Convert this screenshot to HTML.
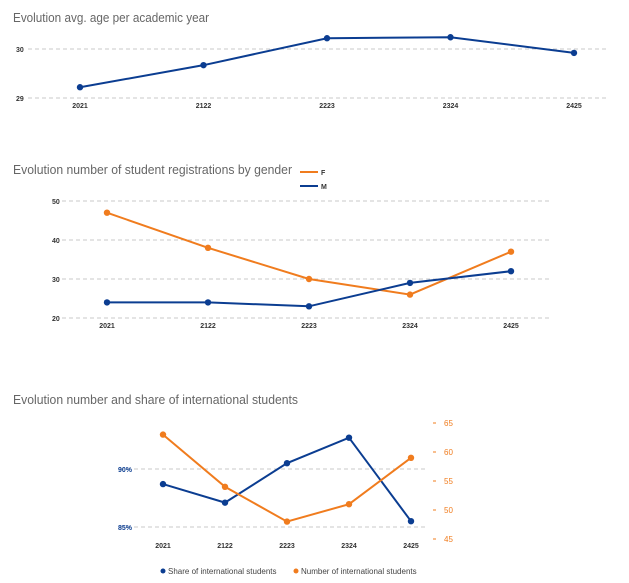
<!DOCTYPE html>
<html><head><meta charset="utf-8"><style>
body{margin:0;background:#fff;width:629px;height:583px;overflow:hidden;font-family:"Liberation Sans",sans-serif}
svg{display:block}
</style></head><body>
<svg id="s" width="629" height="583"></svg>
<script>
const years=["2021","2122","2223","2324","2425"];
const ageValues=[29.22,29.67,30.22,30.24,29.92];
const ageTicks=[29,30];
const femaleValues=[47,38,30,26,37];
const maleValues=[24,24,23,29,32];
const genderTicks=[20,30,40,50];
const shareValues=[88.7,87.1,90.5,92.7,85.5];
const shareTicks=[85,90];
const countValues=[63,54,48,51,59];
const countTicks=[45,50,55,60,65];
const BLUE="#0b3d91",ORANGE="#f07c1e";
const svg=document.getElementById('s');
const NS="http://www.w3.org/2000/svg";
function mk(tag,attrs,parent){const e=document.createElementNS(NS,tag);for(const k in attrs)e.setAttribute(k,attrs[k]);(parent||svg).appendChild(e);return e;}
function txt(x,y,s,size,fill,anchor,parent){const t=mk('text',{x:x,y:y,'font-size':size,fill:fill,'text-anchor':anchor||'start'},parent);t.textContent=s;return t;}
function lin(v0,p0,v1,p1){return v=>p0+(v-v0)*(p1-p0)/(v1-v0);}
function series(vals,xf,yf,color,name,parent){
  const g=mk('g',{},parent);
  
  
  mk('polyline',{points:vals.map((v,i)=>xf(i)+','+yf(v)).join(' '),fill:'none',stroke:color,'stroke-width':2},g);
  vals.forEach((v,i)=>{const c=mk('circle',{cx:xf(i),cy:yf(v),r:3.2,fill:color},g);
    
    });
}
function grid(y,x0,x1,parent){mk('line',{x1:x0,x2:x1,y1:y,y2:y,stroke:'#c8c8c8','stroke-dasharray':'4,3','stroke-width':1},parent);}
function title(x,y,s,len,parent,name){const t=txt(x,y,s,13,'#666','start',parent);t.setAttribute('textLength',len);t.setAttribute('lengthAdjust','spacingAndGlyphs');}

// Chart 1
let g1=mk('g',{});
title(13,22,"Evolution avg. age per academic year",196,g1,'age-chart-title');
let y1=lin(29,98,30,49),x1=i=>80+i*123.5;
ageTicks.forEach(t=>{grid(y1(t),28,608,g1);txt(16,y1(t)+3,String(t),7,'#333','start',g1).setAttribute('font-weight','bold');});
years.forEach((y,i)=>txt(x1(i),108,y,7,'#333','middle',g1).setAttribute('font-weight','bold'));
series(ageValues,x1,y1,BLUE,'age',g1);

// Chart 2
let g2=mk('g',{});
title(13,174,"Evolution number of student registrations by gender",279,g2,'gender-chart-title');
let y2=lin(20,318,50,201),x2=i=>107+i*101;
genderTicks.forEach(t=>{grid(y2(t),62,550,g2);txt(52,y2(t)+3,String(t),7,'#333','start',g2).setAttribute('font-weight','bold');});
years.forEach((y,i)=>txt(x2(i),328,y,7,'#333','middle',g2).setAttribute('font-weight','bold'));
series(femaleValues,x2,y2,ORANGE,'female',g2);
series(maleValues,x2,y2,BLUE,'male',g2);
let lf=mk('g',{},g2);
mk('line',{x1:300,x2:318,y1:172,y2:172,stroke:ORANGE,'stroke-width':2},lf);txt(321,175,"F",7,'#333','start',lf).setAttribute('font-weight','bold');
let lm=mk('g',{},g2);
mk('line',{x1:300,x2:318,y1:186,y2:186,stroke:BLUE,'stroke-width':2},lm);txt(321,189,"M",7,'#333','start',lm).setAttribute('font-weight','bold');

// Chart 3
let g3=mk('g',{});
title(13,404,"Evolution number and share of international students",285,g3,'international-chart-title');
let y3=lin(85,527,90,469),y3r=lin(45,539,65,423),x3=i=>163+i*62;
shareTicks.forEach(t=>{grid(y3(t),120,425,g3);txt(132,y3(t)+3,t+"%",7,BLUE,'end',g3).setAttribute('font-weight','bold');});
countTicks.forEach(t=>{mk('line',{x1:433,x2:436,y1:y3r(t),y2:y3r(t),stroke:ORANGE},g3);txt(444,y3r(t)+3,String(t),8,ORANGE,'start',g3);});
years.forEach((y,i)=>txt(x3(i),548,y,7,'#333','middle',g3).setAttribute('font-weight','bold'));
series(shareValues,x3,y3,BLUE,'share',g3);
series(countValues,x3,y3r,ORANGE,'count',g3);
let l1=mk('g',{},g3);
mk('circle',{cx:163,cy:571,r:2.5,fill:BLUE},l1);txt(168,574,"Share of international students",8,'#444','start',l1);
let l2=mk('g',{},g3);
mk('circle',{cx:296,cy:571,r:2.5,fill:ORANGE},l2);txt(301,574,"Number of international students",8,'#444','start',l2);
</script>
</body></html>
